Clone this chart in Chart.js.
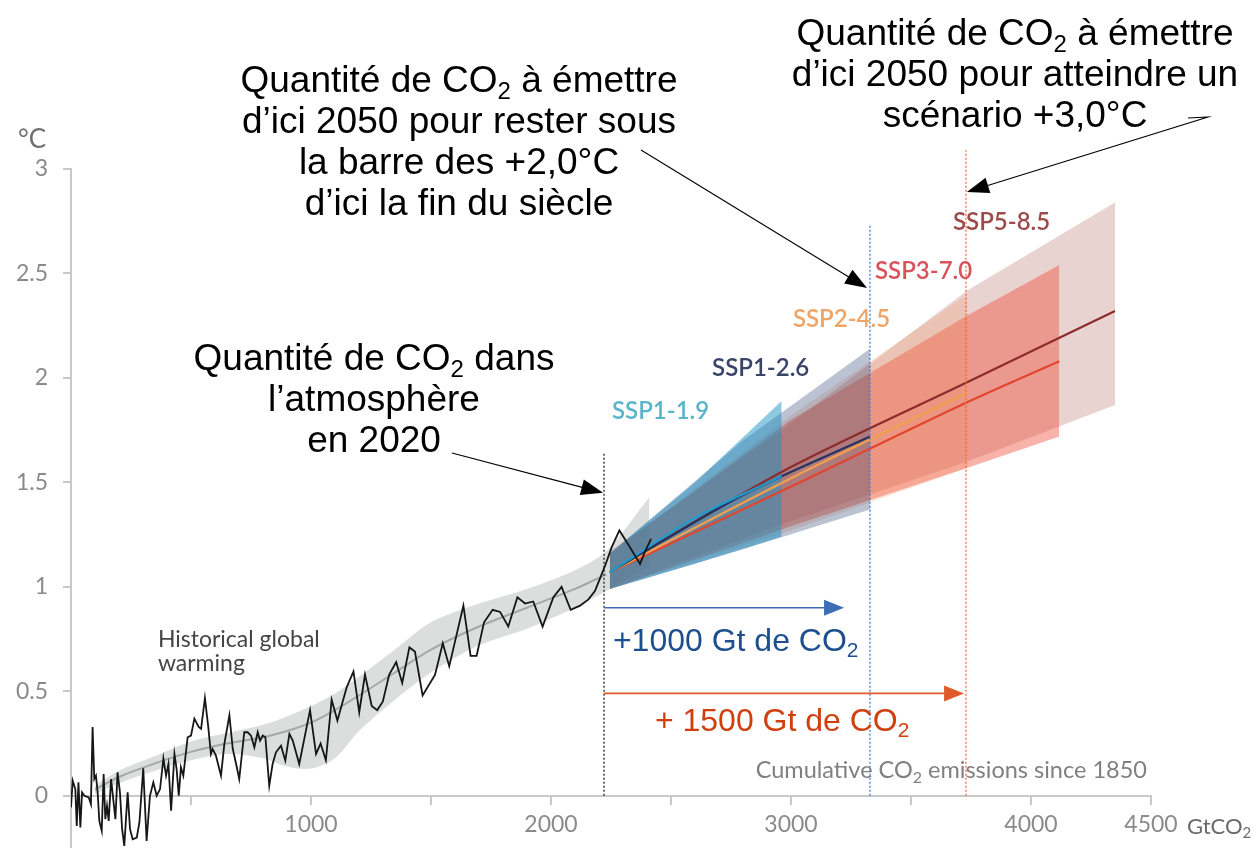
<!DOCTYPE html>
<html>
<head>
<meta charset="utf-8">
<title>Réchauffement et CO2 cumulé</title>
<script src="https://cdn.jsdelivr.net/npm/chart.js@4.4.1/dist/chart.umd.min.js"></script>
<style>
  html, body { margin: 0; padding: 0; background: #fff; }
  canvas { display: block; }
</style>
</head>
<body>
<canvas id="co2Chart" width="1258" height="848"></canvas>
<script>
// --- Réchauffement observé (°C) en fonction du CO2 cumulé (GtCO2) ---
const histX = [0, 7, 18, 24, 31, 39, 46, 56, 74, 83, 90, 97, 104, 111, 118, 128, 136, 143, 150, 157,
  167, 176, 185, 194, 204, 213, 222, 236, 246, 257, 274, 285, 301, 315, 329, 343, 357, 371, 385, 396,
  406, 417, 431, 440, 449, 458, 468, 486, 500, 514, 532, 542, 558, 572, 583, 590, 604, 625, 639, 660,
  674, 688, 701, 722, 736, 750, 764, 778, 788, 799, 810, 826, 840, 854, 875, 893, 910, 924, 951, 972,
  996, 1021, 1040, 1062, 1086, 1110, 1149, 1177, 1201, 1225, 1253, 1276, 1299, 1326, 1355, 1380, 1410, 1433, 1465, 1517,
  1549, 1576, 1635, 1665, 1690, 1721, 1757, 1788, 1822, 1860, 1892, 1926, 1965, 2010, 2044, 2082, 2121, 2156, 2183, 2211,
  2225, 2253, 2285, 2329, 2371, 2392, 2417];
const histY = [-0.056, 0.072, 0.032, -0.144, 0.064, -0.152, 0.016, 0.0, -0.008, -0.04, 0.329, 0.08, 0.096, 0.016, -0.12, -0.168, 0.104, -0.112, -0.048, -0.12,
  0.08, -0.016, -0.112, 0.112, 0.016, -0.16, -0.24, 0.016, -0.16, -0.208, -0.2, -0.128, 0.131, -0.216, 0.0, 0.064, 0.0, 0.032, 0.179, 0.096,
  0.152, -0.072, 0.2, 0.128, 0.0, 0.136, 0.096, 0.28, 0.288, 0.369, 0.329, 0.32, 0.468, 0.329, 0.2, 0.224, 0.192, 0.096, 0.248, 0.385,
  0.224, 0.152, 0.08, 0.304, 0.304, 0.288, 0.232, 0.304, 0.264, 0.288, 0.28, 0.048, 0.152, 0.208, 0.24, 0.168, 0.296, 0.264, 0.152, 0.272,
  0.41, 0.2, 0.25, 0.17, 0.46, 0.36, 0.52, 0.595, 0.40, 0.58, 0.43, 0.41, 0.45, 0.58, 0.64, 0.54, 0.71, 0.69, 0.48, 0.58,
  0.73, 0.62, 0.91, 0.67, 0.67, 0.83, 0.89, 0.88, 0.81, 0.95, 0.92, 0.93, 0.81, 0.95, 1.0, 0.89, 0.91, 0.94, 0.98, 1.06,
  1.10, 1.19, 1.27, 1.19, 1.11, 1.17, 1.23];

// estimation centrale et fourchette du réchauffement induit
const histMeanX = [100, 200, 350, 500, 650, 800, 900, 1000, 1100, 1200, 1350, 1500, 1700, 1900, 2100, 2230];
const histMean = [0.03, 0.09, 0.155, 0.21, 0.25, 0.28, 0.31, 0.35, 0.41, 0.48, 0.59, 0.70, 0.81, 0.90, 0.99, 1.06];
const histBandX = [100, 200, 350, 500, 650, 800, 900, 1000, 1100, 1200, 1350, 1500, 1700, 1900, 2100, 2230, 2410];
const histHigh = [0.05, 0.12, 0.19, 0.26, 0.30, 0.34, 0.38, 0.43, 0.49, 0.57, 0.70, 0.83, 0.92, 0.99, 1.08, 1.17, 1.43];
const histLow = [0.01, 0.06, 0.12, 0.17, 0.20, 0.18, 0.14, 0.13, 0.18, 0.31, 0.46, 0.59, 0.72, 0.80, 0.90, 0.98, 1.10];

// --- Scénarios SSP jusqu'en 2050 ---
const ssp119X = [2245, 2600, 2961];
const ssp119Mid = [1.07, 1.33, 1.53];
const ssp119Low = [0.99, 1.11, 1.24];
const ssp119High = [1.16, 1.50, 1.89];

const ssp126X = [2245, 2800, 3329];
const ssp126Mid = [1.07, 1.44, 1.72];
const ssp126Low = [0.99, 1.18, 1.37];
const ssp126High = [1.16, 1.70, 2.14];

const ssp245X = [2245, 3000, 3736];
const ssp245Mid = [1.07, 1.52, 1.93];
const ssp245Low = [0.99, 1.27, 1.57];
const ssp245High = [1.16, 1.82, 2.40];

const ssp370X = [2245, 3000, 3736, 4118];
const ssp370Mid = [1.07, 1.48, 1.885, 2.08];
const ssp370Low = [0.99, 1.29, 1.57, 1.72];
const ssp370High = [1.16, 1.80, 2.30, 2.54];

const ssp585X = [2245, 2961, 3736, 4350];
const ssp585Mid = [1.07, 1.55, 1.98, 2.32];
const ssp585Low = [0.99, 1.30, 1.60, 1.87];
const ssp585High = [1.17, 1.75, 2.42, 2.84];

// repères d'émissions (GtCO2 cumulées)
const emitted2020 = 2221;
const budget2C = 3329;
const budget3C = 3729;
const extraBudgets = [1000, 1500];

// axes
const xTicks = [500, 1000, 1500, 2000, 2500, 3000, 3500, 4000, 4500];
const xTickLabels = [1000, 2000, 3000, 4000, 4500];
const yTicks = [0, 0.5, 1, 1.5, 2, 2.5, 3];

// textes
const noteBudget2C = ['Quantité de CO₂ à émettre', 'd’ici 2050 pour rester sous', 'la barre des +2,0°C', 'd’ici la fin du siècle'];
const noteBudget3C = ['Quantité de CO₂ à émettre', 'd’ici 2050 pour atteindre un', 'scénario +3,0°C'];
const note2020 = ['Quantité de CO₂ dans', 'l’atmosphère', 'en 2020'];
const histLabel = ['Historical global', 'warming'];

const scenarios = [
  { name: 'SSP5-8.5', x: ssp585X, mid: ssp585Mid, low: ssp585Low, high: ssp585High,
    line: '#8e2b2b', band: 'rgba(165,70,60,0.24)', text: '#9c4a4a', at: [3675, 2.75] },
  { name: 'SSP3-7.0', x: ssp370X, mid: ssp370Mid, low: ssp370Low, high: ssp370High,
    line: '#e2452f', band: 'rgba(238,80,62,0.44)', text: '#d9525c', at: [3350, 2.515] },
  { name: 'SSP2-4.5', x: ssp245X, mid: ssp245Mid, low: ssp245Low, high: ssp245High,
    line: '#f2a04e', band: 'rgba(240,130,70,0.2)', text: '#f0a465', at: [3008, 2.285] },
  { name: 'SSP1-2.6', x: ssp126X, mid: ssp126Mid, low: ssp126Low, high: ssp126High,
    line: '#26335f', band: 'rgba(45,65,115,0.32)', text: '#3a4468', at: [2671, 2.05] },
  { name: 'SSP1-1.9', x: ssp119X, mid: ssp119Mid, low: ssp119Low, high: ssp119High,
    line: '#1e9cd0', band: 'rgba(30,145,195,0.5)', text: '#5ab4ca', at: [2254, 1.845] }
];

const pts = (xs, ys) => xs.map((x, i) => ({ x: x, y: ys[i] }));

const datasets = [];
function push(ds) {
  return datasets.push(Object.assign({
    pointRadius: 0, borderWidth: 0, borderColor: 'transparent', fill: false, tension: 0
  }, ds)) - 1;
}

// bande grise de l'historique
const histLowIdx = push({ data: pts(histBandX, histLow), tension: 0.3, order: 100 });
push({ data: pts(histBandX, histHigh), tension: 0.3, fill: { target: histLowIdx }, backgroundColor: 'rgba(185,190,190,0.5)', order: 100 });

// fourchettes des scénarios (SSP5 au fond)
scenarios.forEach((s, i) => {
  const lo = push({ data: pts(s.x, s.low), order: 90 - i * 10 });
  push({ data: pts(s.x, s.high), fill: { target: lo }, backgroundColor: s.band, order: 90 - i * 10 });
});

// ligne centrale grise
push({ data: pts(histMeanX, histMean), borderColor: '#a4a8a8', borderWidth: 2, tension: 0.3, order: 40 });

// médianes des scénarios
scenarios.forEach((s, i) => {
  push({ data: pts(s.x, s.mid), borderColor: s.line, borderWidth: 2.2, tension: 0.3, order: 35 - i });
});

// courbe observée
push({ data: pts(histX, histY), borderColor: '#161616', borderWidth: 1.8, order: 20 });

// repères verticaux pointillés
push({ data: pts([emitted2020, emitted2020], [0, 1.646]), borderColor: '#222', borderWidth: 1.3, borderDash: [2, 2], order: 10 });
push({ data: pts([budget2C, budget2C], [0, 2.73]), borderColor: '#3f7bd0', borderWidth: 1.3, borderDash: [2, 2], order: 10 });
push({ data: pts([budget3C, budget3C], [0, 3.09]), borderColor: '#ee6a3a', borderWidth: 1.3, borderDash: [2, 2], order: 10, clip: false });

function drawRich(ctx, text, x, y, o) {
  const parts = text.split('₂');
  const main = (o.weight || 'normal') + ' ' + o.size + 'px ' + o.family;
  const sub = (o.weight || 'normal') + ' ' + Math.round(o.size * 0.66) + 'px ' + o.family;
  let w = 0;
  parts.forEach((p, i) => {
    ctx.font = main; w += ctx.measureText(p).width;
    if (i < parts.length - 1) { ctx.font = sub; w += ctx.measureText('2').width; }
  });
  let cx = o.align === 'center' ? x - w / 2 : (o.align === 'right' ? x - w : x);
  ctx.fillStyle = o.color;
  ctx.textAlign = 'left';
  ctx.textBaseline = 'alphabetic';
  parts.forEach((p, i) => {
    ctx.font = main; ctx.fillText(p, cx, y); cx += ctx.measureText(p).width;
    if (i < parts.length - 1) {
      ctx.font = sub; ctx.fillText('2', cx, y + o.size * 0.2); cx += ctx.measureText('2').width;
    }
  });
}

function arrow(ctx, path, color, width, len, half) {
  const n = path.length;
  const [x1, y1] = path[n - 2];
  const [x2, y2] = path[n - 1];
  const a = Math.atan2(y2 - y1, x2 - x1);
  ctx.save();
  ctx.strokeStyle = color;
  ctx.fillStyle = color;
  ctx.lineWidth = width;
  ctx.beginPath();
  ctx.moveTo(path[0][0], path[0][1]);
  for (let i = 1; i < n - 1; i++) ctx.lineTo(path[i][0], path[i][1]);
  ctx.lineTo(x2 - len * 0.8 * Math.cos(a), y2 - len * 0.8 * Math.sin(a));
  ctx.stroke();
  ctx.beginPath();
  ctx.moveTo(x2, y2);
  ctx.lineTo(x2 - len * Math.cos(a) + half * Math.sin(a), y2 - len * Math.sin(a) - half * Math.cos(a));
  ctx.lineTo(x2 - len * Math.cos(a) - half * Math.sin(a), y2 - len * Math.sin(a) + half * Math.cos(a));
  ctx.closePath();
  ctx.fill();
  ctx.restore();
}

const annotations = {
  id: 'annotations',
  afterDraw(chart) {
    const ctx = chart.ctx;
    const xs = chart.scales.x, ys = chart.scales.y;
    const P = (x, y) => [xs.getPixelForValue(x), ys.getPixelForValue(y)];
    const lato = 'Lato, "Noto Sans", sans-serif';
    const arial = '"Liberation Sans", Arial, sans-serif';

    // étiquettes des scénarios
    scenarios.forEach(s => {
      const [px, py] = P(s.at[0], s.at[1]);
      drawRich(ctx, s.name, px, py + 9, { size: 24, family: lato, weight: '600', color: s.text });
    });

    const [hx, hy] = P(362, 0.713);
    histLabel.forEach((t, i) => drawRich(ctx, t, hx, hy + i * 24, { size: 23, family: lato, color: '#444' }));

    const [cx, cy] = P(4483, 0.086);
    drawRich(ctx, 'Cumulative CO₂ emissions since 1850', cx, cy, { size: 23.5, family: lato, color: '#808080', align: 'right' });

    // unités des axes
    drawRich(ctx, '°C', 18, 148, { size: 26, family: lato, color: '#707070' });
    drawRich(ctx, 'GtCO₂', 1187, 834, { size: 22, family: lato, color: '#6a6a6a' });

    // flèches horizontales : budgets supplémentaires
    const colors = ['#3d6db5', '#e05a2a'];
    const levels = [0.90, 0.49];
    extraBudgets.forEach((b, i) => {
      arrow(ctx, [P(emitted2020, levels[i]), P(emitted2020 + b, levels[i])], colors[i], 1.6, 20, 8);
    });
    let [bx, by] = P(2258, 0.694);
    drawRich(ctx, '+' + extraBudgets[0] + ' Gt de CO₂', bx, by, { size: 32, family: arial, color: '#1d4f8f' });
    [bx, by] = P(2433, 0.311);
    drawRich(ctx, '+ ' + extraBudgets[1] + ' Gt de CO₂', bx, by, { size: 32, family: arial, color: '#d0400f' });

    // blocs de texte et leurs flèches
    const block = (lines, x, y0) => lines.forEach((t, i) =>
      drawRich(ctx, t, x, y0 + i * 41, { size: 37, family: arial, color: '#000', align: 'center' }));
    block(noteBudget2C, 459, 92);
    block(noteBudget3C, 1015, 45);
    block(note2020, 374, 370);

    arrow(ctx, [[641, 150], P(3317, 2.43)], '#000', 1.1, 22, 8);
    arrow(ctx, [[1188, 118], [1208, 117], P(3733, 2.89)], '#000', 1.1, 22, 8);
    arrow(ctx, [[452, 453], P(2217, 1.45)], '#000', 1.1, 22, 8);
  }
};

Chart.defaults.font.family = 'Lato';

new Chart(document.getElementById('co2Chart'), {
  type: 'line',
  data: { datasets: datasets },
  options: {
    responsive: false,
    animation: false,
    devicePixelRatio: 1,
    events: [],
    layout: { padding: { top: 169, right: 107, bottom: 0, left: 0 } },
    plugins: { legend: { display: false }, tooltip: { enabled: false } },
    scales: {
      x: {
        type: 'linear',
        min: 0,
        max: 4500,
        position: { y: 0 },
        afterFit: s => { s.height = 0; },
        afterBuildTicks: s => { s.ticks = xTicks.map(v => ({ value: v })); },
        border: { color: '#c8c8c8', width: 2 },
        grid: { drawOnChartArea: false, tickLength: 8, color: '#c8c8c8', lineWidth: 2 },
        ticks: {
          autoSkip: false, maxRotation: 0, padding: 7, color: '#8a8a8a', font: { size: 23 },
          callback: v => xTickLabels.includes(v) ? String(v) : ''
        }
      },
      y: {
        type: 'linear',
        min: -0.25,
        max: 3,
        // largeur fixe et pas de marge verticale réservée aux libellés
        afterFit: s => { s.width = 71; s.paddingTop = 0; s.paddingBottom = 0; },
        afterBuildTicks: s => { s.ticks = yTicks.map(v => ({ value: v })); },
        border: { color: '#c8c8c8', width: 2 },
        grid: { drawOnChartArea: false, tickLength: 8, color: '#c8c8c8', lineWidth: 2 },
        ticks: { padding: 15, color: '#8a8a8a', font: { size: 23 }, callback: v => String(v) }
      }
    }
  },
  plugins: [annotations]
});
</script>
</body>
</html>
